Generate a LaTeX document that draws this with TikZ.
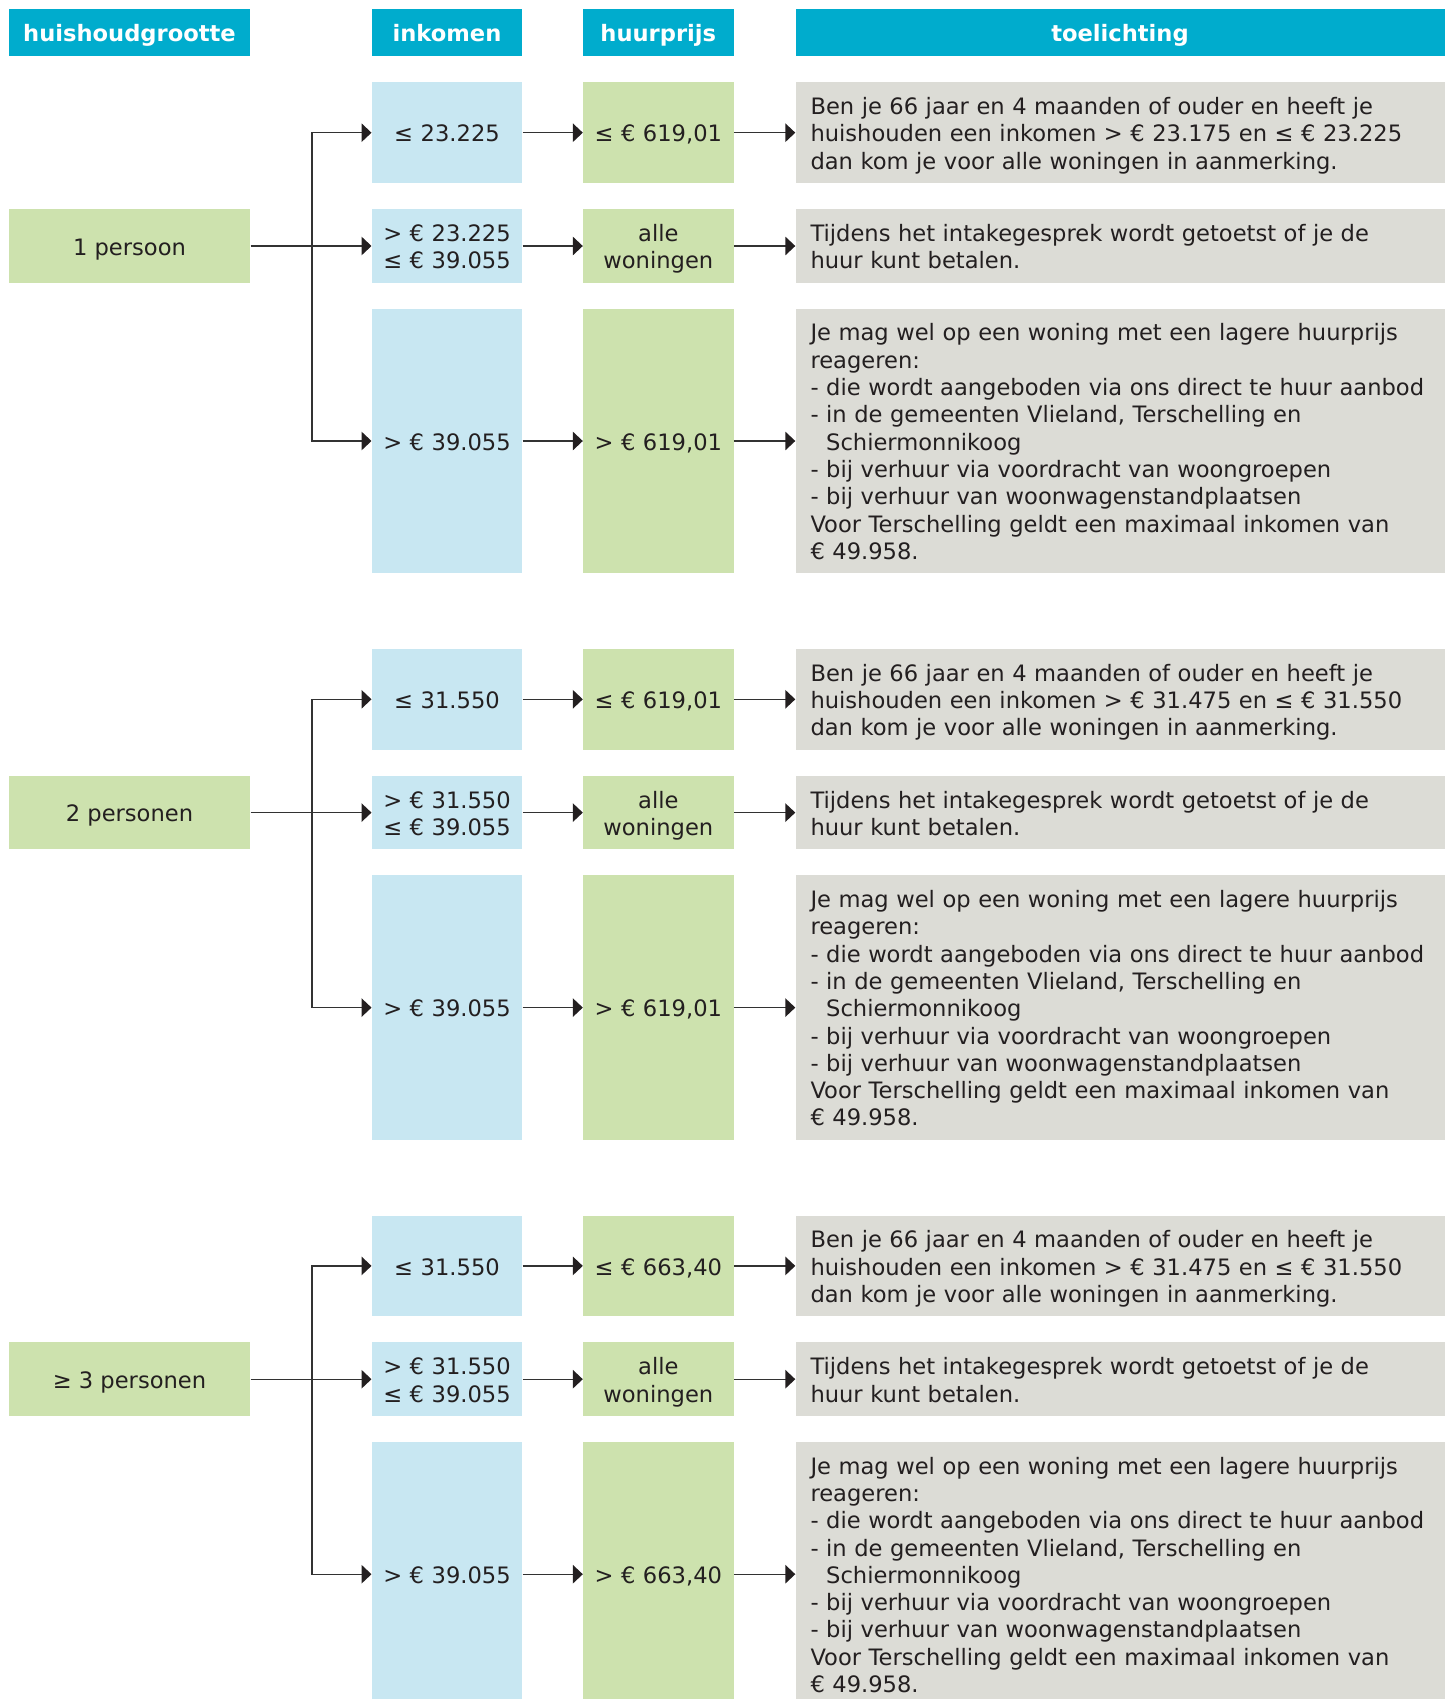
\documentclass[tikz,border=0pt]{standalone}
\usepackage{fontspec}
\setmainfont{DejaVu Sans}
\usetikzlibrary{arrows.meta}

\definecolor{kopblauw}{RGB}{0,172,205}
\definecolor{lichtblauw}{RGB}{200,231,242}
\definecolor{lichtgroen}{RGB}{205,226,174}
\definecolor{grijs}{RGB}{220,220,214}
\definecolor{tekst}{RGB}{35,31,32}
\definecolor{lijn}{RGB}{50,50,50}

\begin{document}
\begin{tikzpicture}[x=1bp,y=-1bp,>={Triangle[length=10bp,width=18.5bp,color=tekst]},
  font=\fontsize{22.6bp}{27.3bp}\selectfont, text=tekst,
  every node/.style={execute at begin node={\rule{0pt}{1.11em}},
    execute at end node={\rule[-0.3em]{0pt}{0pt}}},
  vak/.style={inner sep=0pt, align=center},
  kop/.style={vak, fill=kopblauw, text=white, font=\fontsize{22.6bp}{27.3bp}\selectfont\bfseries, minimum height=47.6bp},
  inkvak/.style={vak, fill=lichtblauw, text width=150.6bp},
  huurvak/.style={vak, fill=lichtgroen, text width=150.6bp},
  toelvak/.style={fill=grijs, text width=619bp, align=left, inner xsep=15bp, inner ysep=0pt},
  pijl/.style={->, draw=lijn, line width=1.4bp}]
  \useasboundingbox (0,0) rectangle (1451,1699);
  % kopjes
  \node[kop, minimum width=241.6bp] (kophh) at (129.5,32.5) {huishoudgrootte};
  \node[kop, minimum width=150.6bp] (kopink) at (447,32.5) {inkomen};
  \node[kop, minimum width=150.6bp] (kophuur) at (658.3,32.5) {huurprijs};
  \node[kop, minimum width=649bp] (koptoel) at (1120,32.5) {toelichting};
  % per huishoudgrootte
  \foreach \g/\wie/\laag/\vanaf/\huur in {0/{1 persoon}/23.225/23.175/{619,01},
      1/{2 personen}/31.550/31.475/{619,01}, 2/{≥ 3 personen}/31.550/31.475/{663,40}} {
    \pgfmathsetmacro\dy{\g*566.6}
    \node[vak, fill=lichtgroen, minimum width=241.6bp, minimum height=73.7bp] (hh\g) at (129.5,{246+\dy}) {\wie};
    \node[inkvak, minimum height=100.8bp] (inka\g) at (447,{132.7+\dy}) {≤ \laag};
    \node[inkvak, minimum height=73.7bp] (inkb\g) at (447,{246+\dy}) {> € \laag\\≤ € 39.055};
    \node[inkvak, minimum height=264.4bp] (inkc\g) at (447,{441+\dy}) {> € 39.055};
    \node[huurvak, minimum height=100.8bp] (huura\g) at (658.3,{132.7+\dy}) {≤ € \huur};
    \node[huurvak, minimum height=73.7bp] (huurb\g) at (658.3,{246+\dy}) {alle\\woningen};
    \node[huurvak, minimum height=264.4bp] (huurc\g) at (658.3,{441+\dy}) {> € \huur};
    \node[toelvak, minimum height=100.8bp] (toela\g) at (1120,{132.7+\dy})
      {Ben je 66 jaar en 4 maanden of ouder en heeft je\\
       huishouden een inkomen > € \vanaf{} en ≤ € \laag\\
       dan kom je voor alle woningen in aanmerking.};
    \node[toelvak, minimum height=73.7bp] (toelb\g) at (1120,{246+\dy})
      {Tijdens het intakegesprek wordt getoetst of je de\\
       huur kunt betalen.};
    \node[toelvak, minimum height=264.4bp] (toelc\g) at (1120,{441+\dy})
      {Je mag wel op een woning met een lagere huurprijs\\
       reageren:\\
       - die wordt aangeboden via ons direct te huur aanbod\\
       - in de gemeenten Vlieland, Terschelling en\\
       \phantom{- }Schiermonnikoog\\
       - bij verhuur via voordracht van woongroepen\\
       - bij verhuur van woonwagenstandplaatsen\\
       Voor Terschelling geldt een maximaal inkomen van\\
       € 49.958.};
    % verbindingen
    \coordinate (bus\g) at (312.1,{246+\dy});
    \draw[pijl] (hh\g) -- (inkb\g);
    \draw[pijl, <->] (inka\g.west) -| (bus\g) |- (inkc\g.west);
    \draw[pijl] (inka\g) -- (huura\g);
    \draw[pijl] (inkb\g) -- (huurb\g);
    \draw[pijl] (inkc\g) -- (huurc\g);
    \draw[pijl] (huura\g) -- (toela\g);
    \draw[pijl] (huurb\g) -- (toelb\g);
    \draw[pijl] (huurc\g) -- (toelc\g);
  }
\end{tikzpicture}
\end{document}
